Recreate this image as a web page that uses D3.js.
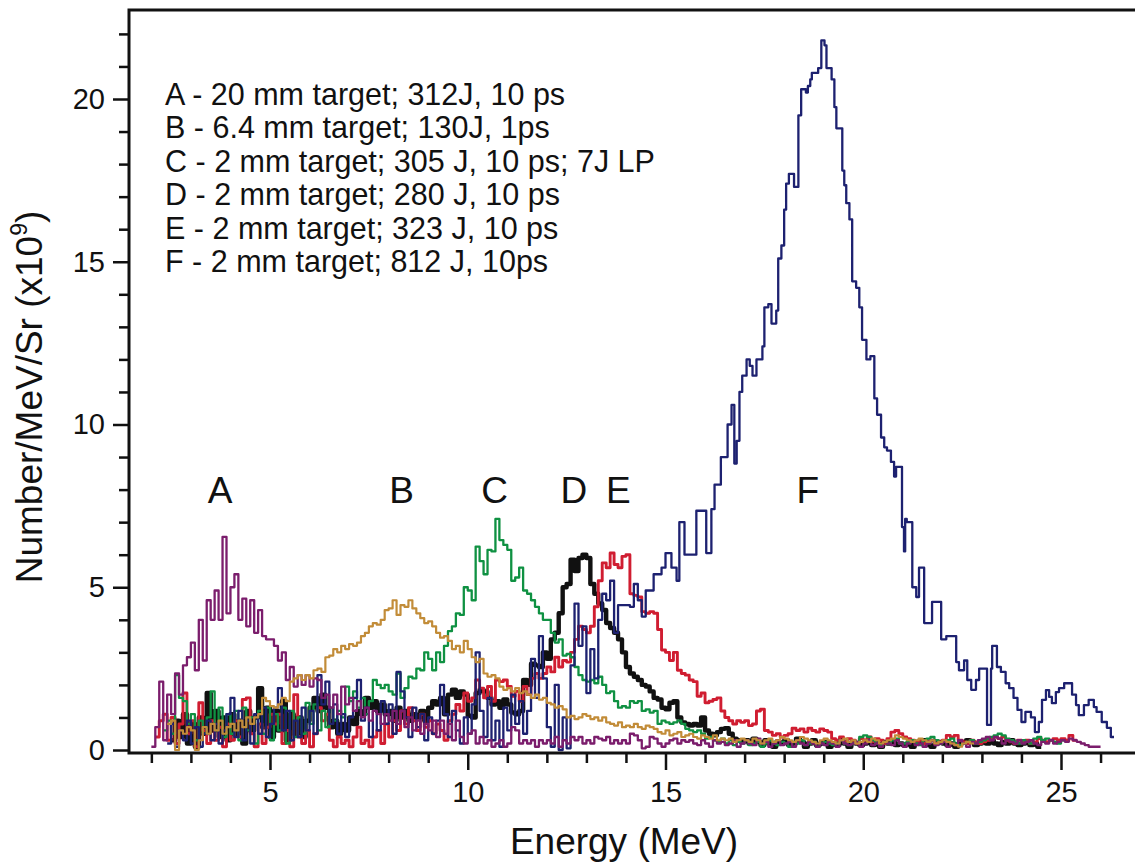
<!DOCTYPE html>
<html>
<head>
<meta charset="utf-8">
<script src="https://cdn.jsdelivr.net/npm/d3@7"></script>
<style>
  html, body { margin: 0; padding: 0; background: #fff; }
  svg { display: block; font-family: "Liberation Sans", Arial, Helvetica, sans-serif; }
</style>
</head>
<body>
<div id="chart"></div>
<script>
// --- data (energy in MeV, yield in 1e9 / MeV / Sr) ---
const gridStep = 0.1

const startA = 2.0
const valuesA = [
  0.1, 0.7, 2.1, 0.3, 1.7, 1.1, 2.35, 1.7, 2.6, 2.85,
  3.3, 2.45, 4.0, 2.75, 4.6, 4.0, 4.9, 4.0, 6.55, 4.2,
  5.0, 5.4, 4.0, 4.65, 3.8, 4.6, 3.6, 4.3, 3.5, 3.4,
  3.4, 3.2, 2.75, 3.0, 2.15, 2.55, 1.95, 2.3, 2.0, 2.3,
  1.95, 2.2, 2.15, 1.6, 1.7, 1.3, 1.7, 1.1, 1.95, 1.4,
  1.6, 1.2, 1.5, 1.0, 1.3, 0.9, 1.2, 1.1, 0.8, 1.1,
  0.9, 1.2, 0.8, 1.2, 0.7, 1.0, 0.6, 0.9, 0.5, 0.8,
  0.6, 0.9, 0.4, 0.9, 0.5, 0.8, 0.3, 0.9, 0.4, 0.2,
  0.5, 0.6, 0.2, 0.4, 0.2, 0.3, 0.1, 0.2, 0.3, 0.1,
  0.2, 0.7, 0.6, 0.2, 0.3, 0.2, 0.3, 0.1, 0.3, 0.2,
  0.3, 0.2, 0.4, 0.1, 0.3, 0.2, 0.4, 0.3, 0.4, 0.2,
  0.3, 0.2, 0.4, 0.35, 0.3, 0.4, 0.2, 0.3, 0.2, 0.3,
  0.2, 0.5, 0.45, 0.3, 0.05, 0.1, 0.4, 0.35, 0.2, 0.1,
  0.2, 0.3, 0.35, 0.2, 0.3, 0.25, 0.3, 0.2, 0.15, 0.3,
  0.2, 0.1, 0.3, 0.2, 0.25, 0.15, 0.2, 0.3, 0.1, 0.2,
  0.3, 0.2, 0.15, 0.35, 0.2, 0.25, 0.1, 0.2, 0.3, 0.15,
  0.2, 0.25, 0.1, 0.3, 0.2, 0.15, 0.25, 0.2, 0.1, 0.2,
  0.15, 0.25, 0.2, 0.1, 0.3, 0.2, 0.15, 0.2, 0.25, 0.1,
  0.2, 0.3, 0.15, 0.2, 0.1, 0.25, 0.2, 0.15, 0.3, 0.2,
  0.1, 0.2, 0.25, 0.15, 0.2, 0.1, 0.2, 0.3, 0.15, 0.2,
  0.25, 0.1, 0.2, 0.15, 0.3, 0.2, 0.1, 0.25, 0.2, 0.3,
  0.35, 0.4, 0.3, 0.4, 0.35, 0.2, 0.3, 0.25, 0.2, 0.3,
  0.2, 0.25, 0.3, 0.2, 0.15, 0.25, 0.2, 0.3, 0.2, 0.25,
  0.3, 0.25, 0.35, 0.3, 0.25, 0.2, 0.15, 0.1, 0.1, 0.1
]

const startB = 2.4
const valuesB = [
  0.8, 0.9, 0.0, 0.6, 0.5, 0.7,
  0.6, 0.0, 0.3, 0.7, 0.5, 0.8, 0.6, 0.9, 0.5, 0.7,
  0.8, 0.6, 0.9, 0.7, 1.0, 0.8, 1.0, 1.1, 1.6, 1.5,
  1.35, 1.3, 1.4, 1.6, 1.5, 2.1, 2.2, 2.3, 2.15, 2.3,
  2.2, 2.45, 2.5, 2.4, 2.85, 2.9, 3.1, 3.0, 3.2, 3.1,
  3.25, 3.2, 3.3, 3.5, 3.6, 3.8, 3.9, 3.85, 4.0, 4.3,
  4.35, 4.6, 4.15, 4.45, 4.4, 4.6, 4.35, 4.2, 4.05, 3.9,
  3.95, 3.8, 3.6, 3.45, 3.5, 3.35, 3.1, 3.2, 3.0, 3.35,
  3.1, 2.85, 2.7, 2.8, 2.35, 2.25, 2.3, 2.2, 1.95, 1.85,
  1.9, 1.8, 1.9, 1.75, 1.8, 1.7, 1.6, 1.7, 1.55, 1.6,
  1.45, 1.4, 1.3, 1.35, 1.25, 1.0, 1.05, 0.95, 1.0, 1.1,
  1.05, 0.95, 1.0, 0.9, 1.0, 0.85, 0.8, 0.75, 0.85, 0.7,
  0.75, 0.7, 0.8, 0.7, 0.65, 0.75, 0.7, 0.65, 0.55, 0.5,
  0.6, 0.45, 0.5, 0.55, 0.4, 0.45, 0.5, 0.4, 0.35, 0.45,
  0.4, 0.35, 0.45, 0.3, 0.35, 0.3, 0.35, 0.25, 0.3, 0.35,
  0.3, 0.25, 0.35, 0.3, 0.2, 0.3, 0.35, 0.25, 0.3, 0.4,
  0.35, 0.3, 0.25, 0.3, 0.4, 0.35, 0.3, 0.25, 0.2, 0.3,
  0.35, 0.3, 0.25, 0.2, 0.3, 0.35, 0.25, 0.3, 0.2, 0.25,
  0.3, 0.25, 0.35, 0.3, 0.2, 0.25, 0.3, 0.35, 0.45, 0.4,
  0.35, 0.3, 0.25, 0.3, 0.35, 0.3, 0.25, 0.3, 0.2, 0.25,
  0.3, 0.25, 0.2, 0.15, 0.1, 0.2, 0.25, 0.2
]

const startC = 2.3
const valuesC = [
  0.6, 0.9, 0.5, 2.3, 1.6, 1.5, 0.8,
  1.1, 0.3, 0.9, 0.5, 1.0, 1.8, 0.6, 1.3, 0.4, 1.1,
  0.5, 1.2, 0.3, 1.3, 0.6, 1.0, 0.2, 1.2, 0.5, 1.3,
  0.3, 1.1, 0.6, 1.3, 0.2, 1.2, 0.4, 1.0, 0.5, 1.45,
  0.8, 1.4, 0.6, 1.2, 0.7, 1.3, 0.9, 1.2, 1.0, 1.95,
  1.5, 1.8, 1.3, 1.6, 1.1, 1.5, 2.15, 2.0, 1.9, 2.0,
  1.8, 1.7, 2.35, 1.6, 1.9, 2.25, 2.2, 2.5, 2.45, 3.0,
  2.8, 2.45, 3.0, 2.7, 3.2, 3.65, 3.8, 4.2, 4.15, 5.0,
  4.9, 4.6, 6.25, 5.8, 5.4, 6.15, 6.1, 7.1, 6.45, 6.3,
  6.15, 5.2, 5.3, 5.6, 4.9, 4.8, 4.6, 4.4, 4.2, 4.0,
  4.0, 3.6, 3.3, 3.4, 2.9, 2.95, 2.85, 2.55, 2.3, 2.15,
  2.1, 2.15, 2.05, 2.25, 2.0, 1.75, 1.8, 1.5, 1.3, 1.35,
  1.3, 1.5, 1.45, 1.5, 1.2, 1.25, 1.15, 1.2, 0.8, 0.9,
  0.85, 0.8, 0.85, 0.9, 0.8, 0.65, 0.6, 0.55, 0.6, 0.5,
  0.35, 0.4, 0.3, 0.25, 0.35, 0.2, 0.3, 0.15, 0.25, 0.2,
  0.3, 0.15, 0.2, 0.25, 0.1, 0.2, 0.3, 0.2, 0.15, 0.25,
  0.2, 0.1, 0.25, 0.2, 0.3, 0.15, 0.2, 0.25, 0.1, 0.2,
  0.25, 0.2, 0.15, 0.2, 0.3, 0.2, 0.15, 0.2, 0.25, 0.4,
  0.45, 0.4, 0.3, 0.2, 0.15, 0.25, 0.2, 0.3, 0.35, 0.2,
  0.2, 0.25, 0.3, 0.2, 0.15, 0.3, 0.35, 0.4, 0.3, 0.2,
  0.25, 0.3, 0.35, 0.2, 0.15, 0.2, 0.25, 0.3, 0.2, 0.25,
  0.3, 0.35, 0.4, 0.45, 0.5, 0.45, 0.35, 0.3, 0.25, 0.2,
  0.3, 0.25, 0.2, 0.35, 0.4, 0.3, 0.35, 0.3, 0.25, 0.2,
  0.3
]

const startD = 2.5
const valuesD = [
  0.3, 0.9, 0.4, 1.1, 0.2,
  0.8, 0.1, 1.0, 0.5, 1.75, 0.6, 1.2, 0.4, 1.0, 0.3,
  1.1, 0.5, 0.9, 0.2, 1.2, 0.6, 1.0, 1.9, 0.7, 1.3,
  0.4, 1.2, 0.6, 1.5, 0.3, 1.1, 0.5, 1.0, 0.4, 0.9,
  1.3, 1.6, 1.2, 1.7, 1.3, 0.7, 0.9, 0.5, 0.8, 0.6,
  1.0, 0.8, 1.2, 1.1, 1.6, 1.3, 1.5, 1.2, 1.4, 1.1,
  1.2, 0.9, 1.3, 1.0, 1.2, 0.9, 1.1, 1.0, 1.2, 0.9,
  1.3, 1.5, 1.4, 1.6, 1.1, 1.7, 1.85, 1.6, 1.8, 1.7,
  1.05, 1.0, 1.75, 1.85, 1.8, 1.6, 1.4, 1.5, 1.3, 1.55,
  1.4, 1.15, 1.1, 1.2, 2.15, 2.0, 2.65, 2.6, 2.55, 3.0,
  2.8, 3.4, 3.6, 4.2, 5.0, 5.1, 5.85, 5.5, 5.9, 6.0,
  5.9, 5.1, 4.8, 4.5, 4.3, 3.9, 3.75, 3.6, 3.4, 3.0,
  2.55, 2.35, 2.25, 2.15, 2.0, 1.95, 1.8, 1.6, 1.55, 1.3,
  1.25, 1.45, 1.5, 1.0, 0.85, 0.8, 0.75, 0.8, 0.75, 1.0,
  0.6, 0.5, 0.45, 0.55, 0.65, 0.67, 0.5, 0.35, 0.3, 0.25,
  0.3, 0.2, 0.35, 0.25, 0.15, 0.3, 0.2, 0.1, 0.25, 0.2,
  0.3, 0.15, 0.2, 0.35, 0.25, 0.1, 0.2, 0.3, 0.15, 0.2,
  0.25, 0.1, 0.2, 0.15, 0.3, 0.2, 0.1, 0.25, 0.2, 0.15,
  0.2, 0.3, 0.15, 0.2, 0.1, 0.25, 0.2, 0.3, 0.15, 0.2,
  0.15, 0.2, 0.1, 0.25, 0.2, 0.3, 0.15, 0.1, 0.2, 0.25,
  0.2, 0.15, 0.2, 0.1, 0.2, 0.25, 0.3, 0.25, 0.15, 0.2,
  0.25, 0.2, 0.3, 0.2, 0.15, 0.25, 0.2, 0.3, 0.2, 0.15,
  0.2, 0.25, 0.15, 0.2, 0.1
]

const startE = 2.1
const valuesE = [
  0.4, 0.9, 1.1, 0.3, 1.0, 0.2, 0.8, 1.75, 0.5,
  0.9, 0.1, 1.45, 0.6, 0.2, 0.9, 0.3, 0.7, 0.1, 0.8,
  0.3, 0.9, 0.4, 1.55, 1.6, 0.5, 0.1, 0.8, 0.2, 0.7,
  1.1, 0.8, 1.1, 0.2, 0.6, 0.1, 1.7, 0.4, 0.2, 0.6,
  0.1, 0.5, 1.3, 0.9, 1.1, 0.3, 0.1, 0.4, 0.2, 0.3,
  0.1, 0.4, 0.7, 0.2, 0.3, 0.1, 0.4, 0.6, 0.2, 0.8,
  0.4, 0.9, 0.6, 1.2, 0.8, 1.3, 0.9, 0.6, 1.1, 0.7,
  0.9, 0.5, 0.8, 0.6, 0.3, 0.9, 1.1, 1.4, 1.2, 1.75,
  1.5, 1.6, 2.15, 1.9, 1.6, 1.95, 1.5, 2.15, 2.1, 2.15,
  1.95, 1.65, 1.8, 1.5, 1.95, 1.7, 2.2, 2.35, 2.2, 2.35,
  2.55, 2.4, 2.85, 2.55, 2.75, 2.7, 3.0, 3.4, 3.8, 3.7,
  3.6, 3.8, 4.4, 5.2, 5.75, 5.6, 6.05, 5.7, 5.6, 5.95,
  6.0, 4.8, 4.75, 4.7, 4.25, 4.2, 4.25, 4.2, 3.7, 3.07,
  3.0, 2.75, 3.0, 2.45, 2.35, 2.3, 2.15, 2.1, 1.65, 1.75,
  1.45, 1.5, 1.55, 1.6, 1.2, 1.0, 0.9, 0.8, 0.9, 0.85,
  0.9, 0.75, 0.8, 1.2, 1.25, 0.6, 0.55, 0.45, 0.5, 0.4,
  0.45, 0.5, 0.67, 0.6, 0.65, 0.55, 0.67, 0.6, 0.55, 0.65,
  0.6, 0.55, 0.35, 0.3, 0.4, 0.25, 0.35, 0.3, 0.2, 0.35,
  0.3, 0.4, 0.25, 0.35, 0.3, 0.2, 0.35, 0.55, 0.6, 0.5,
  0.4, 0.35, 0.3, 0.25, 0.3, 0.2, 0.25, 0.3, 0.2, 0.25,
  0.3, 0.45, 0.4, 0.45, 0.3, 0.25, 0.2, 0.3, 0.25, 0.2,
  0.25, 0.3, 0.35, 0.4, 0.35, 0.4, 0.3, 0.25, 0.2, 0.3,
  0.25, 0.3, 0.2, 0.25, 0.35, 0.3, 0.25, 0.3, 0.35, 0.3,
  0.35, 0.3, 0.45, 0.3
]

// F is a histogram with uneven bins: left bin edges and values
const energyF = [
  2.4, 2.5, 2.6, 2.7, 2.8, 2.9, 3.0, 3.1, 3.2, 3.3, 3.4, 3.5, 3.6, 3.7, 3.8, 3.9,
  4.0, 4.1, 4.2, 4.3, 4.4, 4.5, 4.6, 4.7, 4.8, 4.9, 5.0, 5.1, 5.2, 5.3, 5.4, 5.5,
  5.6, 5.7, 5.8, 5.9, 6.0, 6.1, 6.2, 6.3, 6.4, 6.5, 6.6, 6.7, 6.8, 6.9, 7.0, 7.1,
  7.2, 7.3, 7.4, 7.5, 7.6, 7.7, 7.8, 7.9, 8.0, 8.1, 8.2, 8.3, 8.4, 8.5, 8.6, 8.7,
  8.8, 8.9, 9.0, 9.1, 9.2, 9.3, 9.4, 9.5, 9.6, 9.7, 9.8, 9.9, 10.0, 10.1, 10.2, 10.3,
  10.4, 10.5, 10.6, 10.7, 10.8, 10.9, 11.0, 11.1, 11.2, 11.3, 11.4, 11.5, 11.6, 11.7,
  11.8, 11.9, 12.0, 12.1, 12.2, 12.3, 12.4, 12.5, 12.6, 12.7, 12.8, 12.9, 13.0, 13.1,
  13.2, 13.3, 13.4, 13.5, 13.6, 13.7, 13.8, 14.1, 14.2, 14.3, 14.4, 14.5, 14.7, 14.9,
  15.0, 15.15, 15.28, 15.35, 15.48, 15.78, 16.03, 16.16, 16.24, 16.4, 16.57, 16.67,
  16.74, 16.8, 16.87, 16.94, 17.05, 17.13, 17.2, 17.3, 17.45, 17.5, 17.6, 17.68, 17.8,
  17.85, 17.93, 18.0, 18.05, 18.12, 18.25, 18.36, 18.43, 18.55, 18.6, 18.66, 18.7,
  18.86, 18.94, 19.02, 19.07, 19.2, 19.27, 19.32, 19.47, 19.52, 19.57, 19.65, 19.72,
  19.82, 19.9, 19.97, 20.08, 20.18, 20.28, 20.35, 20.45, 20.53, 20.6, 20.7, 20.78,
  20.83, 20.98, 21.03, 21.06, 21.1, 21.24, 21.34, 21.41, 21.54, 21.74, 21.97, 22.1,
  22.35, 22.42, 22.55, 22.63, 22.73, 22.85, 22.93, 23.13, 23.23, 23.26, 23.38, 23.48,
  23.6, 23.69, 23.8, 23.9, 24.0, 24.1, 24.24, 24.34, 24.44, 24.52, 24.62, 24.7, 24.77,
  24.87, 24.95, 25.08, 25.28, 25.38, 25.45, 25.58, 25.7, 25.83, 25.9, 26.03, 26.16,
  26.26, 26.34
]
const valuesF = [
  0.2, 0.8, 0.1, 0.6, 0.3, 0.9, 0.2, 0.7, 0.1, 0.5, 0.9, 0.3, 0.8, 0.2, 0.6, 1.1,
  1.6, 0.4, 1.2, 0.3, 0.9, 0.2, 1.1, 0.5, 1.3, 0.4, 0.8, 1.3, 1.9, 0.6, 1.2, 0.3,
  0.9, 0.4, 1.3, 0.6, 1.2, 0.5, 2.3, 1.4, 2.1, 0.8, 1.4, 0.5, 1.1, 0.4, 1.0, 1.6,
  2.15, 0.9, 1.3, 0.4, 1.2, 0.6, 1.5, 0.8, 1.4, 0.5, 2.4, 1.8, 1.0, 0.4, 1.3, 0.7,
  1.1, 0.3, 1.0, 0.5, 0.9, 2.0, 1.1, 0.4, 1.2, 0.6, 0.2, 1.0, 0.5, 1.4, 3.0, 1.2,
  0.4, 1.6, 0.3, 0.9, 0.1, 1.3, 0.6, 1.7, 0.8, 1.5, 0.5, 1.2, 2.8, 1.6,
  3.5, 2.2, 0.7, 0.1, 2.0, 0.0, 1.0, 0.05, 2.6, 4.5, 3.2, 3.8, 1.75, 3.1,
  2.2, 4.0, 4.8, 4.6, 5.2, 3.6, 4.45, 4.4, 5.1, 4.6, 4.1, 4.9, 5.4, 5.6,
  6.05, 5.6, 5.2, 7.0, 6.0, 7.35, 6.05, 7.4, 8.15, 9.0, 10.0, 10.6,
  8.8, 9.5, 11.0, 11.5, 12.0, 11.8, 11.5, 12.0, 12.4, 13.6, 13.7, 13.1, 13.5,
  15.1, 15.5, 16.6, 17.4, 17.7, 17.3, 19.5, 20.3, 20.2, 20.4, 20.6, 20.8,
  20.95, 21.8, 21.65, 20.95, 20.6, 19.75, 19.1, 17.8, 17.35, 16.8, 16.3, 14.4,
  14.2, 13.6, 12.6, 12.0, 12.1, 10.8, 10.3, 9.6, 9.3, 9.2, 8.85, 8.4,
  8.7, 6.85, 6.1, 7.1, 7.0, 5.0, 4.7, 5.6, 3.9, 4.55, 3.4, 3.5,
  2.7, 2.45, 2.75, 2.15, 1.85, 2.15, 2.5, 0.77, 2.5, 3.2, 2.55, 2.4,
  2.05, 1.9, 1.6, 1.23, 0.86, 1.17, 1.0, 0.55, 0.86, 1.54, 1.84, 1.63, 1.44,
  1.78, 1.9, 2.05, 1.7, 1.38, 1.07, 1.38, 1.54, 1.32, 1.17, 0.86, 0.68,
  0.4, 0.4
]

const seriesNames = ['A', 'B', 'C', 'D', 'E', 'F']
const seriesColors = {
  A: '#7b1d6c', B: '#c28c38', C: '#0f9142', D: '#111111', E: '#d01d31', F: '#1d2170'
}
const seriesWidths = { A: 2.3, B: 2.2, C: 2.3, D: 4.4, E: 2.9, F: 2.3 }
// back to front
const drawOrder = ['D', 'E', 'C', 'F', 'A', 'B']

const legendLines = [
  'A - 20 mm target; 312J, 10 ps',
  'B - 6.4 mm target; 130J, 1ps',
  'C - 2 mm target; 305 J, 10 ps; 7J LP',
  'D - 2 mm target; 280 J, 10 ps',
  'E - 2 mm target; 323 J, 10 ps',
  'F - 2 mm target; 812 J, 10ps'
]
const peakLabelEnergy = [3.74, 8.33, 10.68, 12.68, 13.81, 18.6]
const peakLabelLevel = 7.6

const xMajorTicks = [5, 10, 15, 20, 25]
const xMinorTicks = d3.range(2, 27)
const yMajorTicks = [0, 5, 10, 15, 20]
const yMinorTicks = d3.range(0, 23)

// --- layout ---
const width = 1135, height = 867
const plot = { left: 129, right: 1135, top: 10, bottom: 753 }

const svg = d3.select('#chart').append('svg')
  .attr('width', width)
  .attr('height', height)
  .attr('viewBox', [0, 0, width, height].join(' '))

const x = d3.scaleLinear().domain([5, 25]).range([270, 1061])
const y = d3.scaleLinear().domain([0, 20]).range([750, 99])

const gridPoints = (start, values) => {
  const pts = values.map((v, i) => [start + i * gridStep, v])
  pts.push([start + values.length * gridStep, values[values.length - 1]])
  return pts
}

const seriesData = {
  A: gridPoints(startA, valuesA),
  B: gridPoints(startB, valuesB),
  C: gridPoints(startC, valuesC),
  D: gridPoints(startD, valuesD),
  E: gridPoints(startE, valuesE),
  F: energyF.map((e, i) => [e, valuesF[i]])
}

const line = d3.line()
  .x(d => x(d[0]))
  .y(d => y(d[1]))
  .curve(d3.curveStepAfter)

svg.append('defs').append('clipPath').attr('id', 'plotclip')
  .append('rect')
  .attr('x', plot.left).attr('y', plot.top)
  .attr('width', plot.right - plot.left).attr('height', plot.bottom - plot.top)

svg.append('g')
  .attr('class', 'lines')
  .attr('clip-path', 'url(#plotclip)')
  .attr('fill', 'none')
  .attr('stroke-linejoin', 'round')
  .selectAll('path')
  .data(drawOrder)
  .join('path')
  .attr('stroke', k => seriesColors[k])
  .attr('stroke-width', k => seriesWidths[k])
  .attr('d', k => line(seriesData[k]))

// --- axes ---
const axes = svg.append('g').attr('class', 'axes')

const xMajor = d3.axisBottom(x).tickValues(xMajorTicks).tickSize(17).tickPadding(11).tickFormat(d3.format('d'))
const xMinor = d3.axisBottom(x).tickValues(xMinorTicks.filter(v => !xMajorTicks.includes(v))).tickSize(10).tickFormat('')
const yMajor = d3.axisLeft(y).tickValues(yMajorTicks).tickSize(16).tickPadding(8).tickFormat(d3.format('d'))
const yMinor = d3.axisLeft(y).tickValues(yMinorTicks.filter(v => !yMajorTicks.includes(v))).tickSize(10).tickFormat('')

const styleAxis = g => {
  g.select('.domain').remove()
  g.selectAll('.tick line').attr('stroke', '#111').attr('stroke-width', 2.5)
  g.selectAll('.tick text').attr('fill', '#111').attr('font-size', 29)
    .attr('font-family', '"Liberation Sans", Arial, Helvetica, sans-serif')
}

axes.append('g').attr('transform', `translate(0,${plot.bottom})`).call(xMajor).call(styleAxis)
axes.append('g').attr('transform', `translate(0,${plot.bottom})`).call(xMinor).call(styleAxis)
axes.append('g').attr('transform', `translate(${plot.left},0)`).call(yMajor).call(styleAxis)
axes.append('g').attr('transform', `translate(${plot.left},0)`).call(yMinor).call(styleAxis)

// frame: left, bottom, top
axes.append('path')
  .attr('fill', 'none')
  .attr('stroke', '#111')
  .attr('stroke-width', 3)
  .attr('d', `M${plot.right},${plot.top}H${plot.left}V${plot.bottom}H${plot.right}`)

// axis titles
svg.append('text')
  .attr('x', 624)
  .attr('y', 854)
  .attr('text-anchor', 'middle')
  .attr('font-size', 37)
  .attr('fill', '#111')
  .text('Energy (MeV)')

const yTitle = svg.append('text')
  .attr('transform', 'translate(42,397) rotate(-90)')
  .attr('text-anchor', 'middle')
  .attr('font-size', 37)
  .attr('fill', '#111')
yTitle.append('tspan').text('Number/MeV/Sr (x10')
yTitle.append('tspan').attr('font-size', 23).attr('dy', -15).text('9')
yTitle.append('tspan').attr('dy', 15).text(')')

// legend block
svg.append('g')
  .selectAll('text')
  .data(legendLines)
  .join('text')
  .attr('x', 165)
  .attr('y', (d, i) => 105 + i * 33.4)
  .attr('font-size', 30.5)
  .attr('fill', '#111')
  .text(d => d)

// peak letters
svg.append('g')
  .selectAll('text')
  .data(seriesNames)
  .join('text')
  .attr('x', (d, i) => x(peakLabelEnergy[i]))
  .attr('y', y(peakLabelLevel))
  .attr('text-anchor', 'middle')
  .attr('font-size', 37)
  .attr('fill', '#111')
  .text(d => d)
</script>
</body>
</html>
